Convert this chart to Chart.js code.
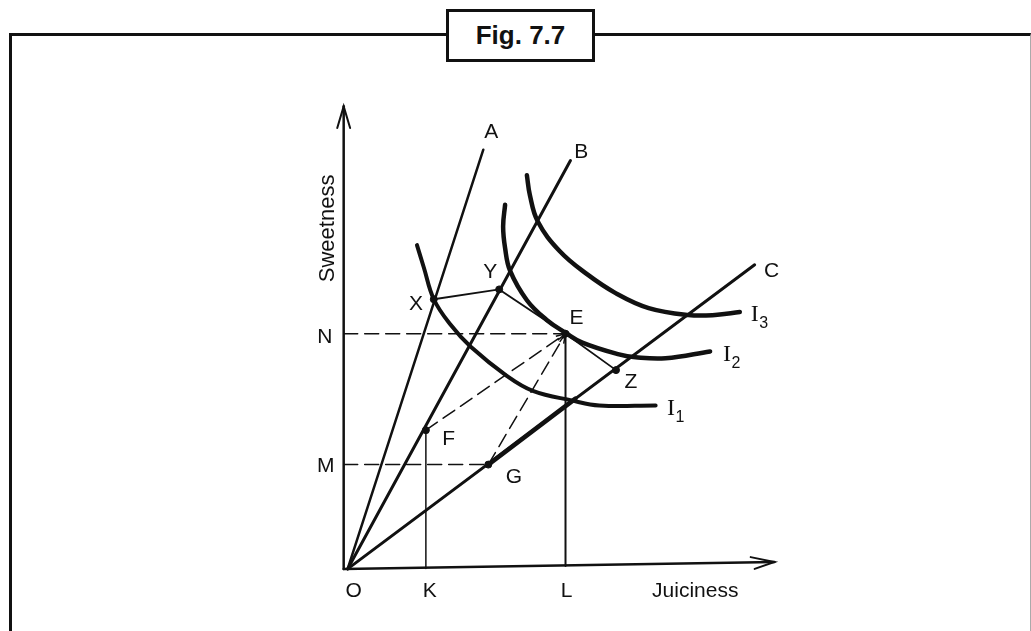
<!DOCTYPE html>
<html>
<head>
<meta charset="utf-8">
<script src="https://cdn.jsdelivr.net/npm/chart.js@4"></script>
<style>
  body { margin: 0; background: #fff; }
  #wrap { position: relative; width: 1031px; height: 631px; overflow: hidden; }
  #frame {
    position: absolute; left: 9px; top: 33px; width: 1018px; height: 640px;
    border-top: 3px solid #111; border-left: 3px solid #111; border-right: 1px solid #aaa;
    pointer-events: none;
  }
  #title {
    position: absolute; left: 446px; top: 9px; width: 143px; height: 47px;
    border: 3px solid #111; background: #fff;
    font: bold 26px "Liberation Sans", Arial, sans-serif; color: #111;
    display: flex; align-items: center; justify-content: center;
  }
</style>
</head>
<body>
<div id="wrap">
  <canvas id="fig"></canvas>
  <div id="frame"></div>
  <div id="title">Fig. 7.7</div>
</div>
<script>
// axes (units: juiciness across, sweetness up)
const axisX = [[-0.4, 0], [43.1, 0.7]];
const axisXHead = [[40.7, 1.2], [43.1, 0.7], [41.1, 0.0]];
const axisY = [[-0.4, 0], [-0.4, 47.0]];
const axisYHead = [[-1.05, 44.8], [-0.4, 47.0], [0.25, 44.8]];

// rays from the origin
const rayA = [[0, 0], [13.7, 42.6]];
const rayB = [[0, 0], [22.5, 41.5]];
const rayC = [[0, 0], [41.1, 30.9]];
const rayCbold = [[14.2, 10.6], [23.0, 17.3]];

// indifference curves
const curveI1 = [[7.0, 32.9], [7.7, 30.6], [8.7, 27.4], [10.4, 24.8], [12.4, 22.6], [16.1, 19.6], [18.7, 18.1], [22.7, 17.1], [25.4, 16.6], [31.1, 16.6]];
const curveI2 = [[15.9, 37.0], [15.7, 34.8], [15.9, 32.6], [16.4, 30.3], [18.1, 27.3], [20.1, 25.3], [22.0, 24.0], [23.7, 23.0], [27.4, 21.8], [29.1, 21.5], [32.1, 21.4], [36.6, 22.1]];
const curveI3 = [[18.1, 40.0], [18.4, 38.0], [19.2, 35.3], [21.4, 32.3], [24.1, 30.0], [27.1, 28.0], [30.4, 26.5], [34.4, 25.8], [37.1, 25.8], [39.6, 26.1]];

// marked points
const ptX = [8.7, 27.4], ptY = [15.3, 28.4], ptE = [22.0, 23.9];
const ptZ = [27.1, 20.2], ptF = [7.9, 14.1], ptG = [14.2, 10.6];

// guide lines
const lineN = [[-0.4, 23.9], ptE];
const lineM = [[-0.4, 10.6], ptG];
const lineK = [[7.9, 0.05], ptF];
const lineL = [[22.0, 0.3], ptE];
const lineXYEZ = [ptX, ptY, ptE, ptZ];
const lineFE = [ptF, ptE];
const lineGE = [ptG, ptE];

// text labels: [text, x, y]
const pointLabels = [
  ['A', 14.5, 44.4], ['B', 23.6, 42.3], ['C', 42.8, 30.3],
  ['X', 6.9, 26.9], ['Y', 14.4, 30.1], ['E', 23.1, 25.5], ['Z', 28.6, 19.0],
  ['F', 10.2, 13.2], ['G', 16.8, 9.3],
  ['N', -2.3, 23.5], ['M', -2.2, 10.4],
  ['O', 0.6, -2.3], ['K', 8.3, -2.3], ['L', 22.1, -2.3], ['Juiciness', 35.1, -2.3]
];
const curveLabels = [['1', 32.65, 16.3], ['2', 38.3, 21.8], ['3', 41.1, 25.8]];
const yTitle = ['Sweetness', -2.0, 34.6];

const toXY = a => a.map(([x, y]) => ({ x, y }));
function seg(data, width, dash, tension) {
  return {
    data: toXY(data), showLine: true, borderColor: '#111', borderWidth: width,
    borderDash: dash || [], pointRadius: 0, tension: tension || 0, fill: false,
    borderCapStyle: 'round'
  };
}

const labelPlugin = {
  id: 'labels',
  afterDatasetsDraw(chart) {
    const { ctx, scales: { x, y } } = chart;
    ctx.save();
    ctx.fillStyle = '#111';
    ctx.strokeStyle = '#111';
    ctx.textAlign = 'center';
    ctx.textBaseline = 'middle';
    ctx.font = '21px "Liberation Sans", Arial, sans-serif';
    pointLabels.forEach(([t, a, b]) => ctx.fillText(t, x.getPixelForValue(a), y.getPixelForValue(b)));

    curveLabels.forEach(([n, a, b]) => {
      const px = x.getPixelForValue(a), py = y.getPixelForValue(b);
      ctx.font = '24px "Liberation Serif", "Times New Roman", serif';
      ctx.fillText('I', px, py);
      ctx.font = '16px "Liberation Sans", Arial, sans-serif';
      ctx.fillText(n, px + 9, py + 9);
    });

    ctx.font = '22px "Liberation Sans", Arial, sans-serif';
    ctx.translate(x.getPixelForValue(yTitle[1]), y.getPixelForValue(yTitle[2]));
    ctx.rotate(-Math.PI / 2);
    ctx.fillText(yTitle[0], 0, 0);
    ctx.restore();

    // small arrow tips where the dashed lines meet E
    ctx.save();
    ctx.strokeStyle = '#111';
    ctx.lineWidth = 1.5;
    [lineFE, lineGE].forEach(([p, q]) => {
      const x0 = x.getPixelForValue(p[0]), y0 = y.getPixelForValue(p[1]);
      const x1 = x.getPixelForValue(q[0]), y1 = y.getPixelForValue(q[1]);
      const ang = Math.atan2(y1 - y0, x1 - x0);
      ctx.beginPath();
      ctx.moveTo(x1 - 10 * Math.cos(ang - 0.35), y1 - 10 * Math.sin(ang - 0.35));
      ctx.lineTo(x1, y1);
      ctx.lineTo(x1 - 10 * Math.cos(ang + 0.35), y1 - 10 * Math.sin(ang + 0.35));
      ctx.stroke();
    });
    ctx.restore();
  }
};

new Chart(document.getElementById('fig'), {
  type: 'scatter',
  data: {
    datasets: [
      seg(axisX, 2.5), seg(axisXHead, 2), seg(axisY, 2.5), seg(axisYHead, 2),
      seg(lineN, 1.5, [14, 7]), seg(lineM, 1.5, [14, 7]),
      seg(lineFE, 1.5, [14, 7]), seg(lineGE, 1.5, [14, 7]),
      seg(lineK, 1.5), seg(lineL, 2), seg(lineXYEZ, 1.8),
      seg(rayA, 2.5), seg(rayB, 3), seg(rayC, 3), seg(rayCbold, 4.5),
      seg(curveI1, 4, null, 0.4), seg(curveI2, 4.5, null, 0.4), seg(curveI3, 4.5, null, 0.4),
      {
        data: toXY([ptX, ptY, ptE, ptZ, ptF, ptG]), showLine: false,
        pointRadius: 3.5, pointBackgroundColor: '#111', pointBorderColor: '#111'
      }
    ]
  },
  options: {
    responsive: true,
    maintainAspectRatio: false,
    animation: false,
    layout: { padding: 0 },
    plugins: { legend: { display: false }, tooltip: { enabled: false } },
    scales: {
      x: { type: 'linear', display: false, min: -34.6, max: 68.5 },
      y: { type: 'linear', display: false, min: -5.8, max: 57.3 }
    }
  },
  plugins: [labelPlugin]
});
</script>
</body>
</html>
